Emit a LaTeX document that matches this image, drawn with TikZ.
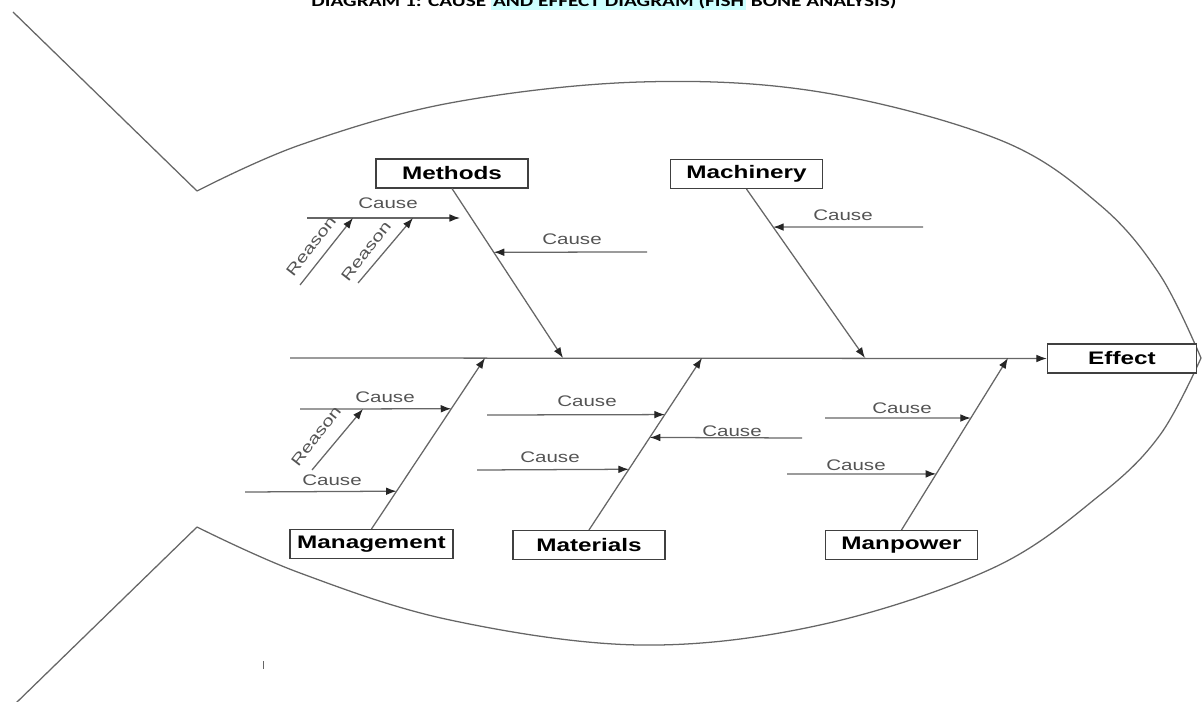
\documentclass[tikz,border=0pt]{standalone}
\usepackage{fontspec}
\setmainfont{Liberation Sans}
\newfontfamily\titlefont{Carlito}
\usetikzlibrary{arrows.meta,calc}

\definecolor{bonegray}{rgb}{0.4,0.4,0.4}
\definecolor{textgray}{rgb}{0.33,0.33,0.33}
\definecolor{hilite}{rgb}{0.8,1,1}
\newcommand{\wide}[1]{\scalebox{1.34}[1]{#1}}
\setlength{\fboxsep}{1pt}

\tikzset{
  bone/.style={draw=bonegray, line width=0.9pt},
  arr/.style={bone, -{Latex[length=7.5pt,width=5.5pt,color=black!85]}},
  catbox/.style={draw=black!75, line width=0.9pt, fill=white, minimum width=3.8cm, minimum height=0.72cm, inner sep=0pt, font=\fontsize{12.9}{14}\selectfont\bfseries},
  causelbl/.style={text=textgray, inner sep=0pt, font=\fontsize{10.9}{12}\selectfont},
}

\begin{document}
\begin{tikzpicture}[x=0.025cm, y=-0.025cm]
    \useasboundingbox (0,0) rectangle (1202,702);
    \clip (0,0) rectangle (1202,702);

    % title, cut at the top edge
    \node[anchor=base, inner sep=0pt, font=\titlefont\bfseries\fontsize{11.3}{13}\selectfont] (title) at (604,6.5)
        {\wide{DIAGRAM 1: CAUSE \colorbox{hilite}{AND EFFECT DIAGRAM (FISH} BONE ANALYSIS)}};

    % fish outline
    \draw[bone] (13,12) -- (197,191);
    \draw[bone] (197,527) -- (15,704);
    \draw[bone] plot[smooth, tension=0.6] coordinates {(197,191) (300,145) (450,103) (640,82) (820,92) (1000,140) (1100,205) (1160,275) (1201,358)};
    \draw[bone] plot[smooth, tension=0.6] coordinates {(197,527) (300,573) (450,620) (640,645) (820,625) (993,568) (1100,495) (1160,435) (1201,358)};
    \draw[bonegray, line width=0.5pt] (263,661) -- (263,669);

    % spine and effect
    \coordinate (tailS) at (290,358);
    \node[catbox, minimum width=3.725cm] (effect) at (1122,358.5) {\wide{Effect}};
    \draw[arr] (tailS) -- (effect.west);

    % category boxes
    \node[catbox] (methods) at (452,173.5) {\wide{Methods}};
    \node[catbox] (machinery) at (746.5,174) {\wide{Machinery}};
    \node[catbox, minimum width=4.075cm] (management) at (371.5,544) {\wide{Management}};
    \node[catbox] (materials) at (589,545) {\wide{Materials}};
    \node[catbox] (manpower) at (901.5,545) {\wide{Manpower}};

    % main bones
    \coordinate (methE) at (563,358);
    \coordinate (machE) at (865,358);
    \coordinate (mgmtE) at (485,358);
    \coordinate (matE) at (702,358);
    \coordinate (manE) at (1008,358);
    \draw[arr] (methods.south) -- (methE);
    \draw[arr] (machinery.south) -- (machE);
    \draw[arr] (management.north) -- (mgmtE);
    \draw[arr] (materials.north) -- (matE);
    \draw[arr] (manpower.north) -- (manE);

    % methods
    \coordinate (meth1S) at (307,218);
    \coordinate (meth1E) at (460,218);
    \coordinate (meth2S) at (647,252);
    \coordinate (reas1S) at (300,285);
    \coordinate (reas1E) at (353,218);
    \coordinate (reas2S) at (358,283);
    \coordinate (reas2E) at (413,218);
    \draw[arr] (meth1S) -- (meth1E);
    \draw[arr] (meth2S) -- ($(methods.south)!0.376!(methE)$);
    \draw[arr] (reas1S) -- (reas1E);
    \draw[arr] (reas2S) -- (reas2E);
    \node[causelbl] (methC1) at (388,203) {\wide{Cause}};
    \node[causelbl] (methC2) at (572,239) {\wide{Cause}};
    \node[causelbl, rotate=52] (methR1) at (311,246) {\wide{Reason}};
    \node[causelbl, rotate=52] (methR2) at (366,251) {\wide{Reason}};

    % machinery
    \coordinate (mach1S) at (923,227);
    \draw[arr] (mach1S) -- ($(machinery.south)!0.225!(machE)$);
    \node[causelbl] (machC1) at (843,215) {\wide{Cause}};

    % management
    \coordinate (mgmt1S) at (300,409);
    \coordinate (mgmt2S) at (245,492);
    \coordinate (reas3S) at (312,470);
    \coordinate (reas3E) at (363,409);
    \draw[arr] (mgmt1S) -- ($(management.north)!0.703!(mgmtE)$);
    \draw[arr] (mgmt2S) -- ($(management.north)!0.221!(mgmtE)$);
    \draw[arr] (reas3S) -- (reas3E);
    \node[causelbl] (mgmtC1) at (385,397) {\wide{Cause}};
    \node[causelbl] (mgmtC2) at (332,480) {\wide{Cause}};
    \node[causelbl, rotate=52] (mgmtR1) at (316,436) {\wide{Reason}};

    % materials
    \coordinate (mat1S) at (487,415);
    \coordinate (mat2S) at (802,438);
    \coordinate (mat3S) at (477,470);
    \draw[arr] (mat1S) -- ($(materials.north)!0.671!(matE)$);
    \draw[arr] (mat2S) -- ($(materials.north)!0.538!(matE)$);
    \draw[arr] (mat3S) -- ($(materials.north)!0.353!(matE)$);
    \node[causelbl] (matC1) at (587,401) {\wide{Cause}};
    \node[causelbl] (matC2) at (732,431) {\wide{Cause}};
    \node[causelbl] (matC3) at (550,457) {\wide{Cause}};

    % manpower
    \coordinate (man1S) at (825,418);
    \coordinate (man2S) at (787,474);
    \draw[arr] (man1S) -- ($(manpower.north)!0.651!(manE)$);
    \draw[arr] (man2S) -- ($(manpower.north)!0.326!(manE)$);
    \node[causelbl] (manC1) at (902,408) {\wide{Cause}};
    \node[causelbl] (manC2) at (856,465) {\wide{Cause}};
\end{tikzpicture}
\end{document}
